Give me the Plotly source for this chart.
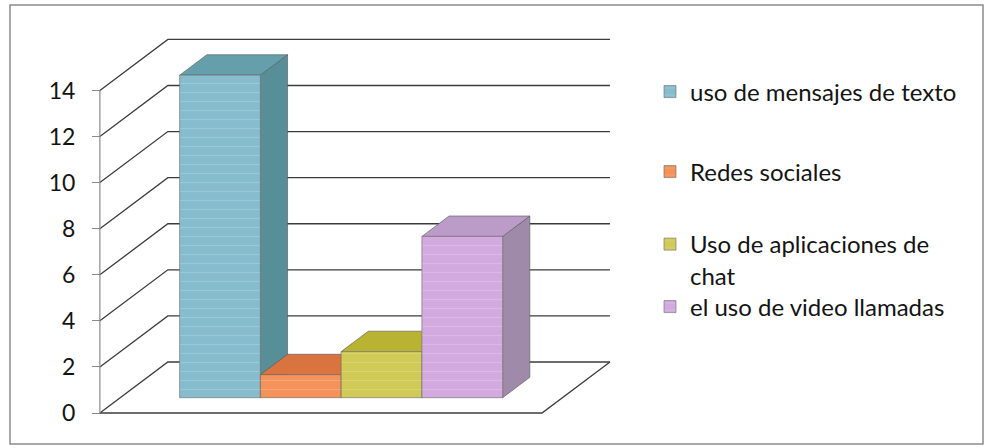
import plotly.graph_objects as go

# ---- data ----
categories = ["uso de mensajes de texto", "Redes sociales",
              "Uso de aplicaciones de<br>chat", "el uso de video llamadas"]
values = [14, 1, 2, 7]
tick_values = [0, 2, 4, 6, 8, 10, 12, 14]
tick_labels = ["0", "2", "4", "6", "8", "10", "12", "14"]

# ---- styling ----
front_colors = ["#86bccd", "#f4925a", "#d0cb57", "#d3aae0"]
side_colors = ["#578e98", "#c86c3c", "#a9a437", "#a08aaa"]
top_colors = ["#659fab", "#d9733f", "#b8b332", "#bb9bc8"]
line_col = "#3c3c3c"
FONT = "Lato, Open Sans, sans-serif"

# 3-D oblique geometry (axis units)
DX = 0.842          # full depth shift in category units
DY = 2.214          # full depth shift in value units
D_FRONT, D_BACK = 0.30, 0.70
X0 = -0.5 - D_FRONT * DX - 0.735            # floor front-left
X1 = len(values) - 0.5 - D_FRONT * DX + 0.74  # floor front-right
BASE = D_FRONT * DY
BDX = (D_BACK - D_FRONT) * DX
BDY = (D_BACK - D_FRONT) * DY

fig = go.Figure()

# walls and floor
wx, wy = [], []
for v in tick_values:
    wx += [X0, X0 + DX, X1 + DX, None]
    wy += [v, v + DY, v + DY, None]
wx += [X0, X1, X1 + DX, None]
wy += [0, 0, DY, None]
fig.add_trace(go.Scatter(x=wx, y=wy, mode="lines", line=dict(color=line_col, width=1.3),
                         hoverinfo="skip", showlegend=False, zorder=0))
fig.add_trace(go.Scatter(x=[X0, X0], y=[0, max(tick_values)], mode="lines",
                         line=dict(color="#8a8a8a", width=1.2), hoverinfo="skip",
                         showlegend=False, zorder=0))

legend_names = ["legend", "legend2", "legend3", "legend4"]
for i, (name, v) in enumerate(zip(categories, values)):
    z = 1 + 2 * i
    xl, xr = i - 0.5, i + 0.5
    top = BASE + v
    # right side face
    fig.add_trace(go.Scatter(
        x=[xr, xr + BDX, xr + BDX, xr, xr], y=[BASE, BASE + BDY, top + BDY, top, BASE],
        mode="lines", fill="toself", fillcolor=side_colors[i],
        line=dict(color="#555555", width=0.6), hoverinfo="skip",
        showlegend=False, zorder=z))
    # top face
    fig.add_trace(go.Scatter(
        x=[xl, xr, xr + BDX, xl + BDX, xl], y=[top, top, top + BDY, top + BDY, top],
        mode="lines", fill="toself", fillcolor=top_colors[i],
        line=dict(color="#555555", width=0.6), hoverinfo="skip",
        showlegend=False, zorder=z))
    # front face (the bar itself)
    fig.add_trace(go.Bar(
        x=[i], y=[v], base=BASE, width=1, name=name,
        marker=dict(color=front_colors[i], line=dict(color="#6a6a6a", width=0.6),
                    pattern=dict(shape="-", fgcolor="rgba(255,255,255,0.35)",
                                 size=9, solidity=0.12)),
        legend=legend_names[i], zorder=z + 1))

legend_common = dict(xref="container", yref="container", xanchor="left",
                     bgcolor="rgba(0,0,0,0)", font=dict(family=FONT, size=24, color="#141414"))
leg_y_px = [92, 172, 260, 307]
layout_legends = {}
for k, ln in enumerate(legend_names):
    d = dict(legend_common, x=650 / 986, y=1 - leg_y_px[k] / 448, yanchor="middle")
    if k == 2:
        d["valign"] = "top"
    layout_legends[ln] = d

PL, PR, PT, PB = 80, 630, 25, 425   # plot area in pixels
px_per_x = 80.75
px_per_y = 23.04
x_lo = (PL - 220) / px_per_x
x_hi = (PR - 220) / px_per_x
y_hi = (413 - PT) / px_per_y
y_lo = (413 - PB) / px_per_y

W = PR - PL
H = PB - PT
fig.update_layout(
    width=986, height=448,
    margin=dict(l=PL, r=986 - PR, t=PT, b=448 - PB),
    paper_bgcolor="white", plot_bgcolor="rgba(0,0,0,0)",
    barmode="overlay",
    font=dict(family=FONT, size=20, color="#141414"),
    xaxis=dict(range=[x_lo, x_hi], visible=False, fixedrange=True),
    yaxis=dict(range=[y_lo, y_hi], tickvals=tick_values, ticktext=tick_labels,
               showgrid=False, zeroline=False, showline=False,
               ticks="outside", ticklen=8, tickcolor="#8a8a8a", tickwidth=1.2,
               ticklabelstandoff=12,
               anchor="free", position=(100 - PL) / W,
               tickfont=dict(family=FONT, size=23, color="#141414"), fixedrange=True),
    shapes=[dict(type="rect", xref="paper", yref="paper",
                 x0=(10 - PL) / W, x1=(983 - PL) / W,
                 y0=(PB - 444) / H, y1=(PB - 5) / H,
                 line=dict(color="#8c8c8c", width=1.5))],
    **layout_legends,
)

fig.write_html("out.html", config={"displayModeBar": False},
               post_script="document.body.style.margin='0';"
                           "document.body.style.overflow='hidden';")
